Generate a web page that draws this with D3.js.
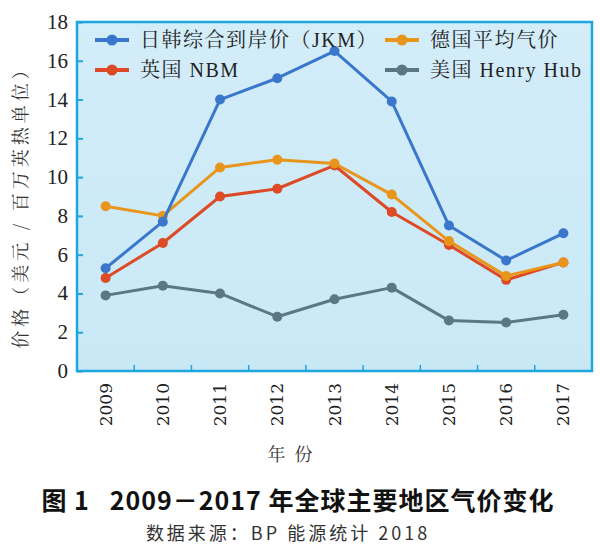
<!DOCTYPE html>
<html><head><meta charset="utf-8">
<script src="https://cdn.jsdelivr.net/npm/d3@7/dist/d3.min.js"></script>
<style>body{margin:0;background:#fff} text{white-space:pre}</style>
</head><body><svg id="c" width="600" height="555"></svg>
<script>
const years = ["2009","2010","2011","2012","2013","2014","2015","2016","2017"];
const jkm = [5.3, 7.7, 14.0, 15.1, 16.5, 13.9, 7.5, 5.7, 7.1];
const germany = [8.5, 8.0, 10.5, 10.9, 10.7, 9.1, 6.7, 4.9, 5.6];
const nbm = [4.8, 6.6, 9.0, 9.4, 10.6, 8.2, 6.5, 4.7, 5.6];
const henryHub = [3.9, 4.4, 4.0, 2.8, 3.7, 4.3, 2.6, 2.5, 2.9];
const yTicks = [0,2,4,6,8,10,12,14,16,18];
const seriesNames = ["日韩综合到岸价（JKM）","英国 NBM","德国平均气价","美国 Henry Hub"];

const svg = d3.select("#c");
const L=77, R=592, T=22, B=371;
const x = d3.scaleBand().domain(years).range([L,R]);
const y = d3.scaleLinear().domain([0,18]).range([B,T]);

const defs = svg.append("defs");
const g = defs.append("linearGradient").attr("id","bg").attr("x1",0).attr("y1",0).attr("x2",0).attr("y2",1);
g.append("stop").attr("offset","0%").attr("stop-color","#d3edf9");
g.append("stop").attr("offset","100%").attr("stop-color","#c9e8f6");
svg.append("rect").attr("x",L).attr("y",T).attr("width",R-L).attr("height",B-T)
  .attr("fill","url(#bg)").attr("stroke","#1ea6de").attr("stroke-width",2.5);

const yAx = svg.append("g").attr("transform",`translate(${L},0)`)
  .call(d3.axisRight(y).tickValues(yTicks).tickSize(6).tickFormat(""));
yAx.select(".domain").remove();
yAx.selectAll("line").attr("stroke","#1ea6de").attr("stroke-width",2);
svg.append("g").selectAll("text").data(yTicks).join("text")
  .attr("x",L-9).attr("y",d=>y(d)+7).attr("text-anchor","end")
  .attr("font-family","'Liberation Serif','DejaVu Serif',serif").attr("font-size",21).attr("fill","#222")
  .text(d=>d);

const bounds = years.slice(1).map(d=>x(d));
svg.append("g").selectAll("line").data(bounds).join("line")
  .attr("x1",d=>d).attr("x2",d=>d).attr("y1",B).attr("y2",B-6)
  .attr("stroke","#1ea6de").attr("stroke-width",1.5);
svg.append("g").selectAll("text").data(years).join("text")
  .attr("transform",d=>`translate(${x(d)+x.bandwidth()/2+6},${383}) rotate(-90)`)
  .attr("text-anchor","end")
  .attr("font-family","'DejaVu Serif','Liberation Serif',serif").attr("font-size",17).attr("fill","#222")
  .text(d=>d);

svg.append("text").attr("transform","translate(27,203) rotate(-90)").attr("text-anchor","middle")
  .attr("font-family","'Noto Serif CJK SC','Noto Sans CJK SC',serif").attr("font-size",18).attr("fill","#333")
  .attr("letter-spacing",4)
  .text("价格（美元 / 百万英热单位）");
svg.append("text").attr("x",290).attr("y",461).attr("text-anchor","middle")
  .attr("font-family","'Noto Serif CJK SC','Noto Sans CJK SC',serif").attr("font-size",18).attr("fill","#333")
  .text("年  份");
svg.append("text").attr("x",298).attr("y",510).attr("text-anchor","middle")
  .attr("font-family","'Noto Sans CJK SC',sans-serif").attr("font-size",25).attr("font-weight","bold").attr("fill","#111")
  .attr("letter-spacing",1)
  .text("图 1   2009－2017 年全球主要地区气价变化");
svg.append("text").attr("x",288).attr("y",540).attr("text-anchor","middle")
  .attr("font-family","'Noto Sans CJK SC',sans-serif").attr("font-size",18).attr("fill","#333")
  .attr("letter-spacing",3)
  .text("数据来源：BP 能源统计 2018");

const series = [
  {name:seriesNames[3], vals:henryHub, color:"#5b7786"},
  {name:seriesNames[1], vals:nbm, color:"#dc4a26"},
  {name:seriesNames[2], vals:germany, color:"#e8951c"},
  {name:seriesNames[0], vals:jkm, color:"#3a77cc"}
];
const cx = d=>x(d)+x.bandwidth()/2;
const line = d3.line().x((v,i)=>cx(years[i])).y(v=>y(v));
series.forEach(s=>{
  svg.append("path").attr("d",line(s.vals)).attr("fill","none")
    .attr("stroke",s.color).attr("stroke-width",3).attr("stroke-linejoin","round");
  svg.append("g").selectAll("circle").data(s.vals).join("circle")
    .attr("cx",(v,i)=>cx(years[i])).attr("cy",v=>y(v)).attr("r",5).attr("fill",s.color);
});

const leg = [
  {name:seriesNames[0], color:"#3a77cc", lx:95, ty:40},
  {name:seriesNames[1], color:"#dc4a26", lx:95, ty:70},
  {name:seriesNames[2], color:"#e8951c", lx:385, ty:40},
  {name:seriesNames[3], color:"#5b7786", lx:385, ty:70}
];
leg.forEach(l=>{
  svg.append("line").attr("x1",l.lx).attr("x2",l.lx+34).attr("y1",l.ty).attr("y2",l.ty)
    .attr("stroke",l.color).attr("stroke-width",4);
  svg.append("circle").attr("cx",l.lx+17).attr("cy",l.ty).attr("r",5.5).attr("fill",l.color);
  svg.append("text").attr("x",l.lx+45).attr("y",l.ty+7)
    .attr("font-family","'Liberation Serif','Noto Serif CJK SC','Noto Sans CJK SC',serif").attr("font-size",20).attr("fill","#222")
    .attr("letter-spacing",1.5)
    .text(l.name);
});
</script></body></html>
